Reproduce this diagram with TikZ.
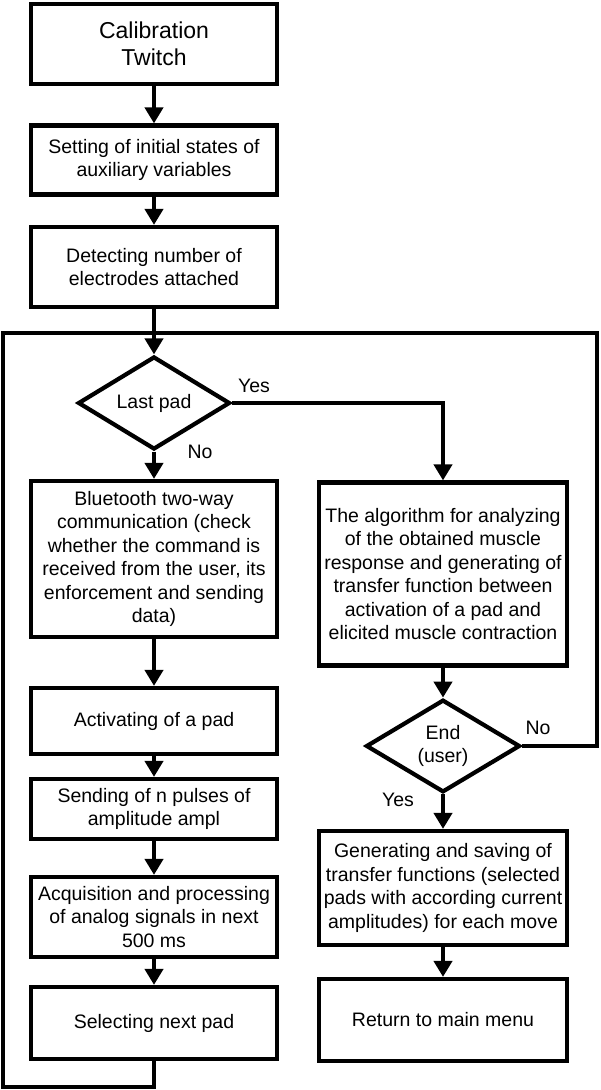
\documentclass[tikz,border=0pt]{standalone}
\usepackage{fontspec}
\setmainfont{Liberation Sans}
\usetikzlibrary{shapes.geometric,arrows.meta}

\tikzset{
    stepbox/.style={draw, line width=4.2pt, minimum width=246pt, inner sep=0pt,
        align=center, font=\fontsize{19.5}{23.5}\selectfont},
    decision/.style={draw, diamond, line width=4.2pt, inner sep=0pt,
        align=center, font=\fontsize{19.5}{23.5}\selectfont},
    flow/.style={line width=4.2pt, -{Triangle[width=18pt,length=16pt]}},
    loopline/.style={line width=4.2pt, line join=miter},
    answer/.style={font=\fontsize{19.5}{23}\selectfont}
}

\begin{document}
\begin{tikzpicture}[x=1pt, y=-1pt]
    \useasboundingbox (0,0) rectangle (600,1090);

    % left column
    \node[stepbox, minimum height=80pt, font=\fontsize{23}{27}\selectfont] (calib) at (154,44) {Calibration\\Twitch};
    \node[stepbox, minimum height=69pt] (setting) at (154,160) {Setting of initial states of\\auxiliary variables};
    \node[stepbox, minimum height=80pt] (detect) at (154,267) {Detecting number of\\electrodes attached};
    \node[decision, minimum width=152pt, minimum height=89pt] (lastpad) at (154,403) {Last pad};
    \node[stepbox, minimum height=156pt] (bluetooth) at (154,559) {Bluetooth two-way\\communication (check\\whether the command is\\received from the user, its\\enforcement and sending\\data)};
    \node[stepbox, minimum height=66pt] (activate) at (154,721) {Activating of a pad};
    \node[stepbox, minimum height=60pt] (sending) at (154,809) {Sending of n pulses of\\amplitude ampl};
    \node[stepbox, minimum height=80pt] (acquire) at (154,917) {Acquisition and processing\\of analog signals in next\\500 ms};
    \node[stepbox, minimum height=72pt] (select) at (154,1023) {Selecting next pad};

    % right column
    \node[stepbox, minimum height=183pt, minimum width=248pt] (algo) at (443,574) {The algorithm for analyzing\\of the obtained muscle\\response and generating of\\transfer function between\\activation of a pad and\\elicited muscle contraction};
    \node[decision, minimum width=154pt, minimum height=91pt] (enduser) at (443,746) {End\\(user)};
    \node[stepbox, minimum height=114pt, minimum width=248pt] (generate) at (443,888) {Generating and saving of\\transfer functions (selected\\pads with according current\\amplitudes) for each move};
    \node[stepbox, minimum height=82pt, minimum width=248pt] (mainmenu) at (443,1020) {Return to main menu};

    \coordinate (loopTL) at (3,333);
    \coordinate (loopTR) at (597,333);
    \coordinate (loopBL) at (3,1087);

    \draw[flow] (calib) -- (setting);
    \draw[flow] (setting) -- (detect);
    \draw[flow] (detect) -- (lastpad);
    \draw[flow] (lastpad) -- (bluetooth);
    \draw[flow] (bluetooth) -- (activate);
    \draw[flow] (activate) -- (sending);
    \draw[flow] (sending) -- (acquire);
    \draw[flow] (acquire) -- (select);
    \draw[flow] (lastpad.east) -| (algo.north);
    \draw[flow] (algo) -- (enduser);
    \draw[flow] (enduser) -- (generate);
    \draw[flow] (generate) -- (mainmenu);
    \draw[loopline] (enduser.east) -| (loopTR) -- (loopTL) -- (loopBL) -| (select.south);

    \node[answer] (yes1) at (254,386) {Yes};
    \node[answer] (no1) at (200,452) {No};
    \node[answer] (no2) at (538,728) {No};
    \node[answer] (yes2) at (398,800) {Yes};
\end{tikzpicture}
\end{document}
